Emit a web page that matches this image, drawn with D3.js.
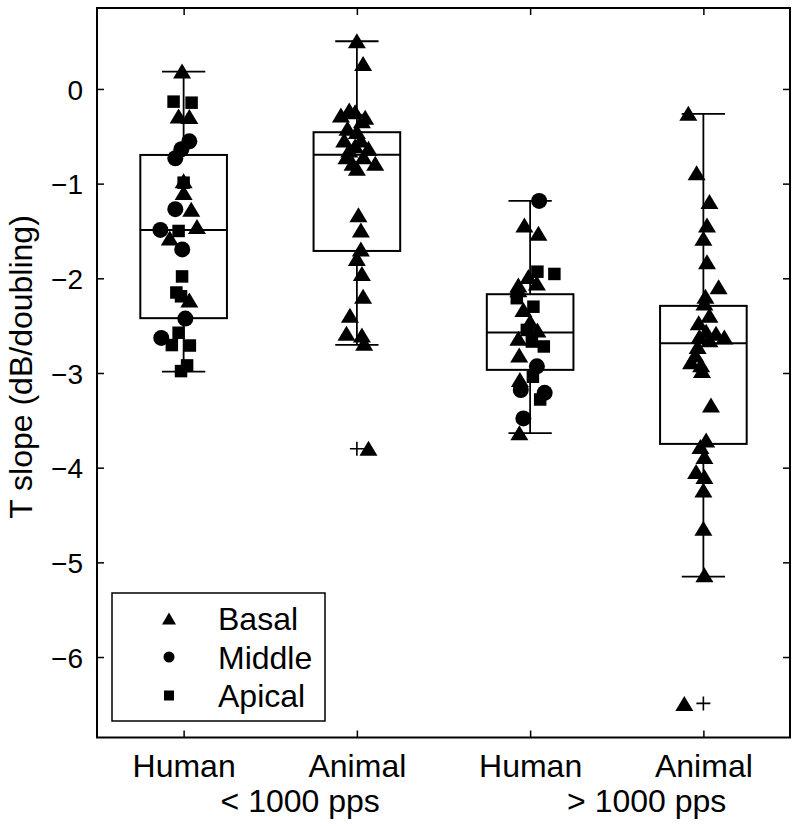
<!DOCTYPE html>
<html>
<head>
<meta charset="utf-8">
<script src="https://cdn.jsdelivr.net/npm/d3@7"></script>
<style>
  html, body { margin: 0; padding: 0; background: #fff; }
  svg text { font-family: "Liberation Sans", Arial, Helvetica, sans-serif; fill: #000; }
</style>
</head>
<body>
<svg id="chart" width="800" height="826"></svg>
<script>
// ---------- DATA ----------
const categories = ["Human", "Animal", "Human", "Animal"];
const groupLabels = ["< 1000 pps", "> 1000 pps"];
const yTicks = [0, -1, -2, -3, -4, -5, -6];
const legendLabels = ["Basal", "Middle", "Apical"];
const legendTypes = ["T", "C", "S"];

// box statistics
const boxQ1 = [-2.421, -1.711, -2.967, -3.749];
const boxMedian = [-1.489, -0.694, -2.573, -2.686];
const boxQ3 = [-0.697, -0.457, -2.168, -2.291];
const whiskerLow = [-2.985, -2.703, -3.636, -5.150];
const whiskerHigh = [0.183, 0.504, -1.183, -0.264];
const outlierGroup = [2, 4];
const outlierValue = [-3.80, -6.49];

// individual points: T = Basal (triangle), C = Middle (circle), S = Apical (square)
const g1Types = ["T","S","S","T","T","C","C","C","S","T","T","C","T","T","C","S","T","C","S","S","S","T","C","S","C","S","S","S","S"];
const g1Jitter = [-0.009,-0.058,0.046,-0.029,0.033,0.033,-0.013,-0.048,0,0,0,-0.048,0.044,0.077,-0.134,-0.029,-0.08,-0.008,-0.009,-0.042,-0.015,0.033,0.01,-0.029,-0.129,-0.068,0.036,0.02,-0.015];
const g1Values = [0.19,-0.134,-0.145,-0.285,-0.29,-0.553,-0.637,-0.732,-0.99,-0.97,-1.095,-1.27,-1.27,-1.454,-1.489,-1.50,-1.575,-1.695,-1.98,-2.15,-2.19,-2.23,-2.425,-2.575,-2.63,-2.705,-2.71,-2.92,-2.98];

const g2Types = ["T","T","T","T","T","T","T","T","T","T","T","T","T","T","T","T","T","T","T","T","T","T","T","T","T","T","T","T","T","T"];
const g2Jitter = [0,0.036,-0.044,-0.01,-0.092,0.029,-0.054,0,-0.073,0.023,0.067,-0.044,0.038,-0.06,0.106,-0.025,0,0.048,-0.01,0.009,0.023,0.023,0,0.029,0.036,-0.04,-0.06,0.029,0.042,0.067];
const g2Values = [0.51,0.27,-0.222,-0.24,-0.275,-0.335,-0.415,-0.45,-0.539,-0.539,-0.626,-0.644,-0.715,-0.715,-0.785,-0.785,-0.837,-0.30,-0.60,-1.33,-1.49,-1.69,-1.79,-1.95,-2.19,-2.39,-2.58,-2.60,-2.685,-3.795];

const g3Types = ["C","T","T","S","S","T","T","T","T","S","S","T","T","T","S","T","S","S","T","C","S","T","C","C","S","C","T"];
const g3Jitter = [0.052,-0.033,0.048,0.042,0.14,-0.01,0.039,-0.068,-0.068,-0.077,0.019,-0.039,0,0.042,-0.019,-0.068,0.01,0.079,-0.063,0.039,0.016,-0.059,-0.054,0.084,0.058,-0.039,-0.062];
const g3Values = [-1.183,-1.436,-1.524,-1.93,-1.954,-1.98,-2.05,-2.07,-2.12,-2.21,-2.30,-2.33,-2.457,-2.545,-2.545,-2.633,-2.668,-2.72,-2.81,-2.93,-3.04,-3.07,-3.18,-3.21,-3.28,-3.48,-3.63];

const g4Types = ["T","T","T","T","T","T","T","T","T","T","T","T","T","T","T","T","T","T","T","T","T","T","T","T","T","T","T","T","T","T","T"];
const g4Jitter = [-0.087,-0.039,0.035,0.021,0,0.021,0.088,0.012,0.006,0.035,-0.027,0.016,0.073,0.121,-0.023,0.035,-0.033,-0.046,-0.071,-0.013,-0.008,0.044,0.016,-0.017,0.006,-0.042,0.006,0,0,0.006,-0.11];
const g4Values = [-0.257,-0.884,-1.19,-1.436,-1.577,-1.824,-2.088,-2.19,-2.26,-2.39,-2.47,-2.56,-2.58,-2.62,-2.615,-2.65,-2.72,-2.81,-2.88,-2.914,-2.975,-3.337,-3.707,-3.777,-3.883,-4.04,-4.094,-4.235,-4.64,-5.13,-6.49];

// ---------- LAYOUT ----------
const svg = d3.select("#chart");
const mLeft = 97, mRight = 790, mTop = 8, mBottom = 737.5;
const x = d3.scaleLinear().domain([0.5, 4.5]).range([mLeft, mRight]);
const y = d3.scaleLinear().domain([-6.85, 0.855]).range([mBottom, mTop]);
const tickLen = 7;
const font = "Liberation Sans, Arial, sans-serif";

// ---------- BOXES ----------
const boxes = d3.range(4).map(i => ({
  pos: i + 1, q1: boxQ1[i], med: boxMedian[i], q3: boxQ3[i], lo: whiskerLow[i], hi: whiskerHigh[i]
}));
const bg = svg.append("g").attr("stroke", "#000").attr("fill", "none");
boxes.forEach(b => {
  const bw = x(b.pos + 0.25) - x(b.pos - 0.25);
  const cw = x(b.pos + 0.125) - x(b.pos - 0.125);
  bg.append("line").attr("x1", x(b.pos)).attr("x2", x(b.pos)).attr("y1", y(b.q3)).attr("y2", y(b.hi)).attr("stroke-width", 1.8);
  bg.append("line").attr("x1", x(b.pos)).attr("x2", x(b.pos)).attr("y1", y(b.q1)).attr("y2", y(b.lo)).attr("stroke-width", 1.8);
  bg.append("line").attr("x1", x(b.pos) - cw / 2).attr("x2", x(b.pos) + cw / 2).attr("y1", y(b.hi)).attr("y2", y(b.hi)).attr("stroke-width", 1.8);
  bg.append("line").attr("x1", x(b.pos) - cw / 2).attr("x2", x(b.pos) + cw / 2).attr("y1", y(b.lo)).attr("y2", y(b.lo)).attr("stroke-width", 1.8);
  bg.append("rect").attr("x", x(b.pos - 0.25)).attr("y", y(b.q3)).attr("width", bw).attr("height", y(b.q1) - y(b.q3)).attr("stroke-width", 2);
  bg.append("line").attr("x1", x(b.pos - 0.25)).attr("x2", x(b.pos + 0.25)).attr("y1", y(b.med)).attr("y2", y(b.med)).attr("stroke-width", 2);
});
outlierGroup.forEach((g, i) => {
  const cx = x(g), cy = y(outlierValue[i]), s = 7;
  bg.append("path").attr("d", `M${cx - s},${cy}H${cx + s}M${cx},${cy - s}V${cy + s}`).attr("stroke-width", 1.6);
});

// ---------- POINTS ----------
function markerPath(t, sz) {
  if (t === "T") {
    const w = sz.tw, h = sz.th;
    return `M0,${-h / 2}L${w / 2},${h / 2}L${-w / 2},${h / 2}Z`;
  } else if (t === "S") {
    const s = sz.s / 2;
    return `M${-s},${-s}H${s}V${s}H${-s}Z`;
  } else {
    const r = sz.r;
    return `M${r},0A${r},${r} 0 1,1 ${-r},0A${r},${r} 0 1,1 ${r},0Z`;
  }
}
const bigSize = { tw: 18, th: 15, s: 12.5, r: 8 };
const groups = [
  { pos: 1, types: g1Types, jit: g1Jitter, vals: g1Values },
  { pos: 2, types: g2Types, jit: g2Jitter, vals: g2Values },
  { pos: 3, types: g3Types, jit: g3Jitter, vals: g3Values },
  { pos: 4, types: g4Types, jit: g4Jitter, vals: g4Values }
];
const pts = [];
groups.forEach(g => g.vals.forEach((v, i) => pts.push({ xv: g.pos + g.jit[i], v: v, t: g.types[i] })));
svg.append("g").selectAll("path").data(pts).join("path")
  .attr("transform", d => `translate(${x(d.xv)},${y(d.v)})`)
  .attr("d", d => markerPath(d.t, bigSize))
  .attr("fill", "#000");

// ---------- AXES ----------
const ax = svg.append("g");
ax.append("rect").attr("x", mLeft).attr("y", mTop).attr("width", mRight - mLeft).attr("height", mBottom - mTop)
  .attr("fill", "none").attr("stroke", "#000").attr("stroke-width", 2);

const yAxisG = ax.append("g").attr("transform", `translate(${mLeft},0)`)
  .call(d3.axisLeft(y).tickValues(yTicks).tickSizeInner(-tickLen).tickSizeOuter(0).tickPadding(14)
    .tickFormat(d => d === 0 ? "0" : "\u2212" + Math.abs(d)));
yAxisG.select(".domain").remove();
yAxisG.selectAll("line").attr("stroke", "#000").attr("stroke-width", 1.5);
yAxisG.selectAll("text").attr("font-size", 28).attr("font-family", font).attr("dy", "0.36em");

const yAxisR = ax.append("g").attr("transform", `translate(${mRight},0)`)
  .call(d3.axisRight(y).tickValues(yTicks).tickSizeInner(-tickLen).tickSizeOuter(0).tickFormat(""));
yAxisR.select(".domain").remove();
yAxisR.selectAll("line").attr("stroke", "#000").attr("stroke-width", 1.5);

const xAxisG = ax.append("g").attr("transform", `translate(0,${mBottom})`)
  .call(d3.axisBottom(x).tickValues([1, 2, 3, 4]).tickSizeInner(-tickLen).tickSizeOuter(0).tickPadding(0)
    .tickFormat((d, i) => categories[i]));
xAxisG.select(".domain").remove();
xAxisG.selectAll("line").attr("stroke", "#000").attr("stroke-width", 1.5);
xAxisG.selectAll("text").attr("font-size", 32).attr("font-family", font).attr("y", 39.5).attr("dy", 0);

const xAxisT = ax.append("g").attr("transform", `translate(0,${mTop})`)
  .call(d3.axisTop(x).tickValues([1, 2, 3, 4]).tickSizeInner(-tickLen).tickSizeOuter(0).tickFormat(""));
xAxisT.select(".domain").remove();
xAxisT.selectAll("line").attr("stroke", "#000").attr("stroke-width", 1.5);

groupLabels.forEach((lab, i) => {
  const c = 1.673 + 2 * i;
  svg.append("text").attr("x", x(c)).attr("y", 812).attr("text-anchor", "middle")
    .attr("font-size", 32).text(lab);
});

svg.append("text").attr("transform", `translate(32,367) rotate(-90)`).attr("text-anchor", "middle")
  .attr("font-size", 32).text("T slope (dB/doubling)");

// ---------- LEGEND ----------
const lg = svg.append("g");
lg.append("rect").attr("x", 112).attr("y", 593).attr("width", 213).attr("height", 128)
  .attr("fill", "#fff").attr("stroke", "#000").attr("stroke-width", 1.5);
const legendRowY = d3.scalePoint().domain(legendLabels).range([618.5, 695.5]);
const smallSize = { tw: 14, th: 12, s: 10, r: 5.5 };
legendLabels.forEach((lab, i) => {
  const cy = legendRowY(lab);
  lg.append("path").attr("transform", `translate(169,${cy})`).attr("d", markerPath(legendTypes[i], smallSize)).attr("fill", "#000");
  lg.append("text").attr("x", 218).attr("y", cy).attr("dy", "0.36em").attr("font-size", 32).text(lab);
});
</script>
</body>
</html>
